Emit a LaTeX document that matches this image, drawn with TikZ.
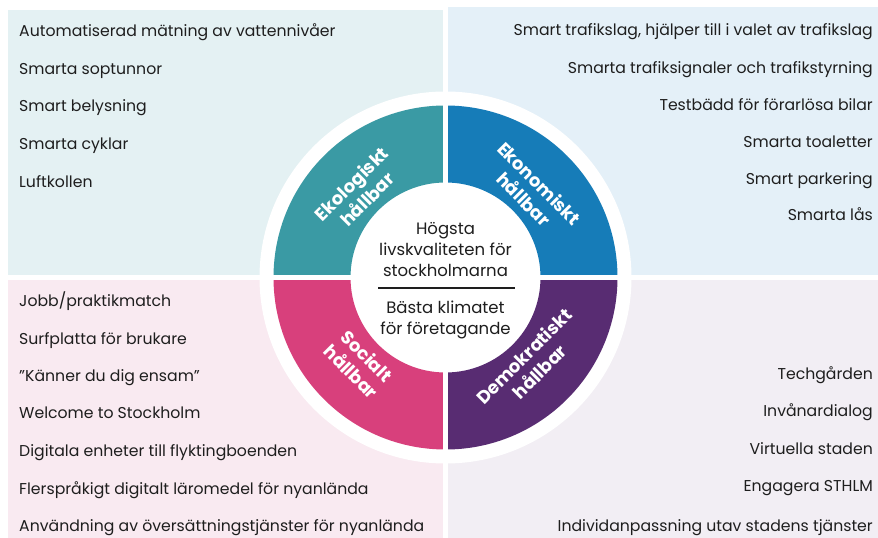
\documentclass[tikz,border=0pt]{standalone}
\usepackage{fontspec}
\setmainfont{Poppins}
\definecolor{ekolbg}{RGB}{228,241,243}
\definecolor{ekonbg}{RGB}{228,240,248}
\definecolor{socbg}{RGB}{249,234,241}
\definecolor{demobg}{RGB}{242,238,244}
\definecolor{ekol}{RGB}{58,154,164}
\definecolor{ekon}{RGB}{22,124,184}
\definecolor{soc}{RGB}{216,64,124}
\definecolor{demo}{RGB}{88,44,114}
\definecolor{ink}{RGB}{30,30,30}
\begin{document}
\begin{tikzpicture}[x=1pt, y=1pt,
        item/.style={anchor=base west, inner sep=0pt, text=ink, font=\fontsize{15.7}{18}\selectfont},
        ritem/.style={anchor=base east, inner sep=0pt, text=ink, font=\fontsize{15.7}{18}\selectfont},
        seglabel/.style={text=white, align=center, inner sep=0pt, font=\bfseries\fontsize{18}{22}\selectfont},
        ctext/.style={text=ink, align=center, inner sep=0pt, font=\fontsize{16.5}{21}\selectfont}]
    \useasboundingbox (0, 0) rectangle (878, 538);
    \fill[white] (0, 0) rectangle (878, 538);
    % backgrounds
    \fill[ekolbg] (8, 261) rectangle (445.5, 528);
    \fill[ekonbg] (445.5, 261) rectangle (878, 531);
    \fill[socbg] (8, 0) rectangle (445.5, 261);
    \fill[demobg] (445.5, 0) rectangle (878, 261);
    \fill[white] (445.5, 260.5) circle (186);
    % ring
    \begin{scope}[shift={(445.5, 260.5)}]
        \fill[ekol] (180:172) arc[start angle=180, end angle=90, radius=172] -- (90:95) arc[start angle=90, end angle=180, radius=95] -- cycle;
        \fill[ekon] (90:172) arc[start angle=90, end angle=0, radius=172] -- (0:95) arc[start angle=0, end angle=90, radius=95] -- cycle;
        \fill[soc] (180:172) arc[start angle=180, end angle=270, radius=172] -- (270:95) arc[start angle=270, end angle=180, radius=95] -- cycle;
        \fill[demo] (270:172) arc[start angle=270, end angle=360, radius=172] -- (0:95) arc[start angle=360, end angle=270, radius=95] -- cycle;
    \end{scope}
    \draw[white, line width=5] (445.5, 0) -- (445.5, 538);
    \draw[white, line width=5] (0, 260.5) -- (878, 260.5);
    \node[seglabel, rotate=45] (ekolab) at ([shift={(135:122)}] 445.5, 260.5) {Ekologiskt\\hållbar};
    \node[seglabel, rotate=-45] (ekonlab) at ([shift={(45:122)}] 445.5, 260.5) {Ekonomiskt\\hållbar};
    \node[seglabel, rotate=-45] (soclab) at ([shift={(225:122)}] 445.5, 260.5) {Socialt\\hållbar};
    \node[seglabel, rotate=45] (demolab) at ([shift={(315:122)}] 445.5, 260.5) {Demokratiskt\\hållbar};
    % centre
    \node[ctext, anchor=south] (goal) at (445.5, 261) {Högsta\\livskvaliteten för\\stockholmarna};
    \draw[ink, line width=1.2] (378, 250) -- (515, 250);
    \node[ctext, anchor=north] (climate) at (445.5, 237) {Bästa klimatet\\för företagande};
    % ekologiskt
    \node[item] (e1) at (19, 501) {Automatiserad mätning av vattennivåer};
    \node[item] (e2) at (19, 463) {Smarta soptunnor};
    \node[item] (e3) at (19, 426) {Smart belysning};
    \node[item] (e4) at (19, 388) {Smarta cyklar};
    \node[item] (e5) at (19, 350) {Luftkollen};
    % ekonomiskt
    \node[ritem] (k1) at (873, 502) {Smart trafikslag, hjälper till i valet av trafikslag};
    \node[ritem] (k2) at (873, 464) {Smarta trafiksignaler och trafikstyrning};
    \node[ritem] (k3) at (873, 427) {Testbädd för förarlösa bilar};
    \node[ritem] (k4) at (873, 390) {Smarta toaletter};
    \node[ritem] (k5) at (873, 353) {Smart parkering};
    \node[ritem] (k6) at (873, 317) {Smarta lås};
    % socialt
    \node[item] (s1) at (19, 231) {Jobb/praktikmatch};
    \node[item] (s2) at (19, 193) {Surfplatta för brukare};
    \node[item] (s3) at (19, 156) {"Känner du dig ensam"};
    \node[item] (s4) at (19, 119) {Welcome to Stockholm};
    \node[item] (s5) at (19, 81) {Digitala enheter till flyktingboenden};
    \node[item] (s6) at (19, 43) {Flerspråkigt digitalt läromedel för nyanlända};
    \node[item] (s7) at (19, 6) {Användning av översättningstjänster för nyanlända};
    % demokratiskt
    \node[ritem] (d1) at (873, 158) {Techgården};
    \node[ritem] (d2) at (873, 121) {Invånardialog};
    \node[ritem] (d3) at (873, 83) {Virtuella staden};
    \node[ritem] (d4) at (873, 46) {Engagera STHLM};
    \node[ritem] (d5) at (873, 6) {Individanpassning utav stadens tjänster};
\end{tikzpicture}
\end{document}
